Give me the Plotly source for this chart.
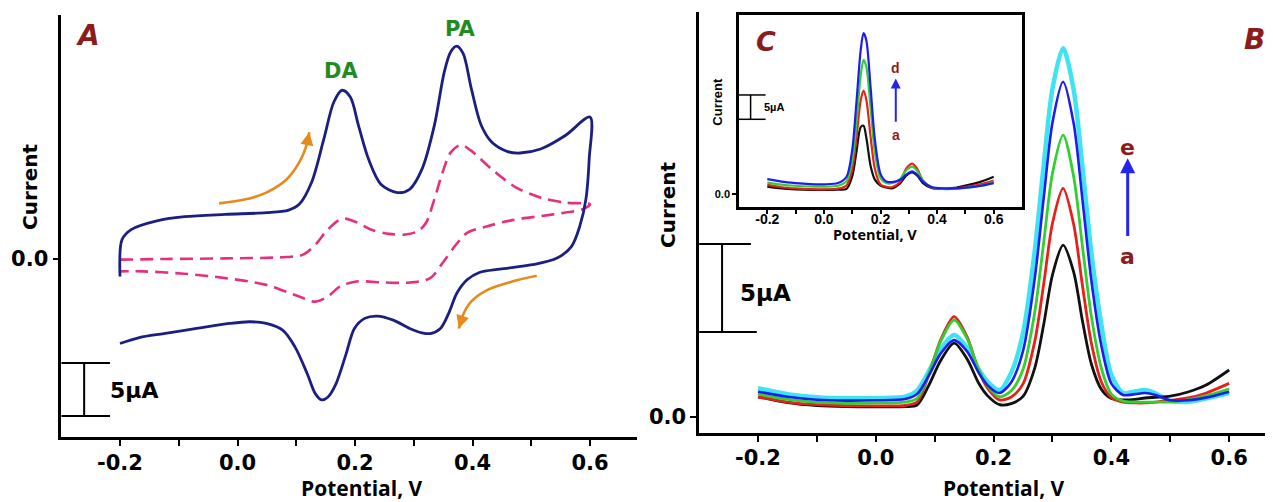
import plotly.graph_objects as go

# ---------------- Panel A : cyclic voltammograms ----------------
CV_BLUE_V = [-0.2, -0.1965, -0.181, -0.139, -0.090, -0.021, 0.049, 0.087, 0.105, 0.126, 0.147, 0.164,
             0.178, 0.192, 0.206, 0.223, 0.244, 0.272, 0.293, 0.314, 0.335, 0.352, 0.363, 0.373,
             0.384, 0.398, 0.415, 0.433, 0.460, 0.481, 0.516, 0.558, 0.600,
             0.5986, 0.593, 0.5826, 0.5686, 0.544, 0.502, 0.4466, 0.4117, 0.3908, 0.3733, 0.3594,
             0.3454, 0.328, 0.314, 0.293, 0.2652, 0.2373, 0.2164, 0.199, 0.185, 0.1676, 0.1536,
             0.1432, 0.1327, 0.1187, 0.0978, 0.0769, 0.049, 0.0211, -0.0138, -0.0696, -0.1254,
             -0.1672, -0.2]
CV_BLUE_I = [-1.65, 1.84, 2.78, 3.58, 3.99, 4.21, 4.37, 4.62, 5.16, 7.22, 11.33, 14.81,
             15.92, 15.28, 12.59, 9.43, 7.06, 6.27, 6.58, 8.48, 12.59, 17.66, 19.56, 20.09,
             19.40, 16.08, 12.59, 11.01, 10.13, 10.0, 10.38, 11.65, 13.39,
             9.43, 5.63, 3.10, 1.20, 0.09, -0.54, -0.95, -1.27, -1.96, -3.23, -5.13,
             -6.55, -7.03, -6.96, -6.55, -5.76, -5.38, -5.60, -6.55, -8.92, -11.77, -13.04,
             -13.29, -12.72, -10.82, -8.29, -6.71, -6.08, -5.92, -6.08, -6.55, -7.03,
             -7.41, -7.97]

CV_PINK_V = [-0.2, -0.1254, -0.0208, 0.0839, 0.1118, 0.1327, 0.1536, 0.178, 0.2024, 0.2269, 0.2582,
             0.2861, 0.307, 0.321, 0.335, 0.349, 0.3629, 0.3803, 0.3977, 0.4326, 0.4745, 0.5163,
             0.5581, 0.6,
             0.586, 0.5372, 0.4675, 0.4256, 0.3908, 0.3698, 0.349, 0.328, 0.2931, 0.2513, 0.2024,
             0.1745, 0.1536, 0.1327, 0.1048, 0.049, -0.0208, -0.0905, -0.1602, -0.2]
CV_PINK_I = [-0.06, 0.0, 0.06, 0.19, 0.41, 1.36, 2.78, 3.80, 3.48, 2.78, 2.37,
             2.31, 2.63, 3.42, 5.63, 8.16, 10.06, 10.76, 10.22, 8.48, 6.74, 5.79,
             5.32, 5.16,
             4.68, 4.21, 3.67, 3.10, 2.47, 1.20, -0.38, -1.80, -2.22, -2.22, -2.12,
             -2.59, -3.54, -4.02, -3.54, -2.44, -1.80, -1.39, -1.17, -1.17]

ARROW_UP_V = [-0.0312, 0.0140, 0.049, 0.0839, 0.105, 0.119, 0.1222]
ARROW_UP_I = [5.25, 5.63, 6.27, 7.53, 9.11, 11.01, 11.96]
ARROW_DN_V = [0.5093, 0.4675, 0.4256, 0.3977, 0.3838, 0.3768]
ARROW_DN_I = [-1.58, -2.12, -2.91, -4.02, -5.28, -6.55]

# ---------------- Panel B : DPV, PA concentration varied ----------------
XB = [-0.2, -0.15, -0.1, -0.05, 0.0, 0.05, 0.07, 0.09, 0.11, 0.133, 0.155, 0.175, 0.19, 0.21,
      0.23, 0.25, 0.27, 0.285, 0.30, 0.318, 0.336, 0.351, 0.366, 0.383, 0.40, 0.42, 0.44,
      0.457, 0.475, 0.50, 0.53, 0.56, 0.60]
B_BLACK = [1.15, 0.82, 0.65, 0.59, 0.58, 0.59, 0.68, 1.8, 3.2, 4.2, 3.3, 1.9, 1.2, 0.7,
           0.76, 1.17, 2.79, 5.24, 8.08, 9.77, 8.23, 5.44, 3.01, 1.57, 1.05, 0.97, 1.0,
           1.08, 1.12, 1.18, 1.42, 1.8, 2.67]
B_RED = [1.15, 0.85, 0.7, 0.64, 0.63, 0.66, 0.85, 2.4, 4.37, 5.70, 4.55, 2.6, 1.62, 0.97,
         1.14, 1.88, 4.31, 7.53, 11.01, 12.99, 10.94, 7.44, 4.2, 1.99, 1.1, 0.85, 0.8,
         0.8, 0.85, 0.95, 1.08, 1.35, 1.91]
B_GREEN = [1.31, 1.0, 0.84, 0.78, 0.8, 0.85, 1.05, 2.44, 4.28, 5.51, 4.45, 2.66, 1.76, 1.15,
           1.49, 2.71, 5.98, 9.89, 13.85, 16.02, 13.65, 9.66, 5.73, 2.77, 1.3, 0.9, 0.85,
           0.85, 0.85, 0.85, 0.97, 1.2, 1.59]
B_BLUE = [1.44, 1.15, 0.98, 0.93, 0.95, 1.02, 1.3, 2.35, 3.6, 4.37, 3.73, 2.5, 1.8, 1.36,
          1.98, 3.75, 7.91, 12.42, 16.73, 19.05, 16.67, 12.31, 7.77, 4.05, 1.9, 1.25, 1.3,
          1.36, 1.25, 0.95, 0.95, 1.1, 1.44]
B_CYAN = [1.63, 1.3, 1.12, 1.06, 1.08, 1.15, 1.5, 2.6, 3.85, 4.66, 3.94, 2.7, 2.0, 1.53,
          2.52, 4.77, 9.49, 14.29, 18.66, 20.95, 18.58, 14.18, 9.36, 5.25, 2.4, 1.36, 1.45,
          1.53, 1.35, 0.92, 0.87, 1.05, 1.36]

# ---------------- Inset C : DPV, DA concentration varied ----------------
XC = [-0.2, -0.15, -0.1, -0.05, 0.0, 0.05, 0.08, 0.10, 0.115, 0.13, 0.14, 0.15, 0.165, 0.18,
      0.20, 0.22, 0.24, 0.27, 0.29, 0.312, 0.33, 0.35, 0.38, 0.42, 0.46, 0.50, 0.55, 0.60]
C_BLACK = [1.57, 1.2, 1.0, 0.9, 0.89, 0.95, 1.1, 3.65, 8.7, 13.8, 14.1, 11.6, 5.8, 3.0,
           1.8, 1.4, 1.2, 2.3, 3.8, 4.5, 3.8, 2.3, 1.3, 1.1, 1.3, 1.8, 2.5, 3.6]
C_RED = [1.92, 1.45, 1.2, 1.05, 1.03, 1.15, 1.8, 5.1, 11.7, 19.3, 21.3, 19.4, 11.8, 5.25,
         2.0, 1.55, 1.45, 2.6, 5.2, 6.3, 5.2, 2.8, 1.4, 1.1, 1.2, 1.5, 2.0, 2.8]
C_GREEN = [2.4, 2.0, 1.75, 1.6, 1.57, 1.75, 2.7, 6.8, 14.8, 24.4, 27.6, 26.2, 17.7, 8.7,
           3.3, 2.3, 2.26, 3.2, 4.9, 5.68, 4.8, 2.8, 1.5, 1.1, 1.1, 1.3, 1.7, 2.5]
C_BLUE = [3.1, 2.6, 2.3, 2.1, 2.05, 2.3, 3.6, 9.1, 18.9, 29.6, 33.1, 31.6, 21.9, 11.3,
          4.2, 2.65, 2.5, 3.0, 4.0, 4.7, 4.0, 2.6, 1.5, 1.2, 1.2, 1.35, 1.7, 2.3]

MAJOR_TICKS = [-0.2, -0.1, 0.0, 0.1, 0.2, 0.3, 0.4, 0.5, 0.6]
MAJOR_TEXT = ["-0.2", "", "0.0", "", "0.2", "", "0.4", "", "0.6"]

# page body has an 8px margin: size the figure to fill the rest of the window
OFF = 8
W, H = 1273 - OFF, 502 - OFF

def px(x):
    return (x - OFF) / W

def py(y):
    return 1 - (y - OFF) / H

MAIN_FONT = "DejaVu Sans"
TITLE_FONT = "Open Sans"
INSET_FONT = "Liberation Sans"
DARKRED = "#8b1c1c"
GREEN_TXT = "#1e8c1e"
ORANGE = "#e8891c"

fig = go.Figure()

# Panel A traces
fig.add_trace(go.Scatter(x=CV_PINK_V, y=CV_PINK_I, mode="lines", xaxis="x", yaxis="y",
                         line=dict(color="#e6307f", width=2.6, dash="13px,7px", shape="spline", smoothing=0.9)))
fig.add_trace(go.Scatter(x=CV_BLUE_V, y=CV_BLUE_I, mode="lines", xaxis="x", yaxis="y",
                         line=dict(color="#1c1f80", width=2.8, shape="spline", smoothing=0.9)))
fig.add_trace(go.Scatter(x=ARROW_UP_V, y=ARROW_UP_I, mode="lines", xaxis="x", yaxis="y",
                         line=dict(color=ORANGE, width=2.6, shape="spline")))
fig.add_trace(go.Scatter(x=ARROW_DN_V, y=ARROW_DN_I, mode="lines", xaxis="x", yaxis="y",
                         line=dict(color=ORANGE, width=2.6, shape="spline")))

# Panel B traces
for yv, col, w in [(B_CYAN, "#3fe3f2", 4.5), (B_BLACK, "#111111", 2.8), (B_RED, "#e8201c", 2.8),
                   (B_GREEN, "#2fd02f", 2.8), (B_BLUE, "#1c1cf0", 2.6)]:
    fig.add_trace(go.Scatter(x=XB, y=yv, mode="lines", xaxis="x2", yaxis="y2",
                             line=dict(color=col, width=w, shape="spline", smoothing=0.8)))

# Inset C traces
for yv, col in [(C_BLACK, "#111111"), (C_RED, "#e8201c"), (C_GREEN, "#2fd02f"), (C_BLUE, "#1c1cf0")]:
    fig.add_trace(go.Scatter(x=XC, y=yv, mode="lines", xaxis="x3", yaxis="y3",
                             line=dict(color=col, width=2.2, shape="spline", smoothing=0.8)))

def xax(domain, rng, size, family, ticklen, anchor, mirror=False, lw=2.5, standoff=0):
    return dict(domain=domain, range=rng, anchor=anchor, showgrid=False, zeroline=False,
                showline=True, linecolor="black", linewidth=lw, mirror=mirror,
                ticks="outside", ticklen=ticklen, tickwidth=2, tickcolor="black",
                tickvals=MAJOR_TICKS, ticktext=MAJOR_TEXT, ticklabelstandoff=standoff,
                tickfont=dict(family=family, size=size, color="black", weight="bold"))

def yax(domain, rng, size, family, ticklen, anchor, mirror=False, lw=2.5, standoff=0):
    return dict(domain=domain, range=rng, anchor=anchor, showgrid=False, zeroline=False,
                showline=True, linecolor="black", linewidth=lw, mirror=mirror,
                ticks="outside", ticklen=ticklen, tickwidth=2, tickcolor="black",
                tickvals=[0.0], ticktext=["0.0"], ticklabelstandoff=standoff,
                tickfont=dict(family=family, size=size, color="black", weight="bold"))

fig.update_layout(
    width=W, height=H, margin=dict(l=0, r=0, t=0, b=0),
    paper_bgcolor="white", plot_bgcolor="white", showlegend=False,
    xaxis=xax([px(61.25), px(637)], [-0.3, 0.68], 21, MAIN_FONT, 6, "y", standoff=-1),
    yaxis=yax([py(437), py(15)], [-16.79, 23.02], 21, MAIN_FONT, 6, "x"),
    xaxis2=xax([px(699.1), px(1270.4)], [-0.3, 0.67], 21, MAIN_FONT, 6, "y2", standoff=-2),
    yaxis2=yax([py(433), py(12)], [-0.909, 23.01], 21, MAIN_FONT, 6, "x2"),
    xaxis3=xax([px(739), px(1022)], [-0.3, 0.7], 14, INSET_FONT, 4, "y3", mirror=True, lw=2.5,
               standoff=-7),
    yaxis3=yax([py(207), py(15)], [-2.61, 36.82], 11, INSET_FONT, 4, "x3", mirror=True, lw=2.5),
)

shapes = []
def seg(xr, yr, x0, y0, x1, y1, w=2):
    shapes.append(dict(type="line", xref=xr, yref=yr, x0=x0, y0=y0, x1=x1, y1=y1,
                       line=dict(color="black", width=w)))

# scale bars (5 uA)
seg("x", "y", -0.261, -9.81, -0.261, -14.81)
seg("x", "y", -0.3, -9.81, -0.217, -9.81)
seg("x", "y", -0.3, -14.81, -0.217, -14.81)
seg("x2", "y2", -0.261, 9.83, -0.261, 4.83)
seg("x2", "y2", -0.3, 9.83, -0.212, 9.83)
seg("x2", "y2", -0.3, 4.83, -0.202, 4.83)
seg("x3", "y3", -0.259, 20.4, -0.259, 15.4, 1.5)
seg("x3", "y3", -0.3, 20.4, -0.206, 20.4, 1.5)
seg("x3", "y3", -0.3, 15.4, -0.206, 15.4, 1.5)
fig.update_layout(shapes=shapes)

ann = []
def txt(xr, yr, x, y, s, size, color="black", family=MAIN_FONT, xanchor="center", angle=0,
        yanchor="middle"):
    ann.append(dict(xref=xr, yref=yr, x=x, y=y, text=s, showarrow=False, xanchor=xanchor,
                    yanchor=yanchor, textangle=angle,
                    font=dict(family=family, size=size, color=color, weight="bold")))

# Panel A texts
txt("x", "y", -0.254, 21.1, "<i>A</i>", 28, DARKRED)
txt("x", "y", 0.176, 17.76, "DA", 21, GREEN_TXT)
txt("x", "y", 0.379, 21.67, "PA", 21, GREEN_TXT)
txt("x", "y", -0.221, -12.36, "5µA", 22, xanchor="left")
txt("paper", "paper", px(30), py(187), "Current", 20, angle=-90)
txt("paper", "paper", px(361.5), -2 / H, "Potential, V", 21, family=TITLE_FONT, yanchor="bottom")

# Panel B texts
txt("x2", "y2", 0.6438, 21.42, "<i>B</i>", 28, DARKRED)
txt("x2", "y2", 0.4277, 15.3, "e", 22, DARKRED)
txt("x2", "y2", 0.4277, 9.1, "a", 22, DARKRED)
txt("x2", "y2", -0.234, 7.05, "5µA", 23, xanchor="left")
txt("paper", "paper", px(668), py(205), "Current", 20, angle=-90)
txt("paper", "paper", px(1004), -2 / H, "Potential, V", 21, family=TITLE_FONT, yanchor="bottom")

# Inset C texts
txt("x3", "y3", -0.206, 31.3, "<i>C</i>", 27, DARKRED)
txt("x3", "y3", 0.254, 25.9, "d", 14, DARKRED, family=INSET_FONT)
txt("x3", "y3", 0.254, 12.2, "a", 14, DARKRED, family=INSET_FONT)
txt("x3", "y3", -0.219, 17.9, "5µA", 11, family=INSET_FONT, xanchor="left")
txt("paper", "paper", px(716.7), py(102), "Current", 13, family=INSET_FONT, angle=-90)
txt("paper", "paper", px(875), py(234), "Potential, V", 14.5, family=TITLE_FONT)

# arrows
def arrow(xr, yr, x0, y0, x1, y1, color, width, size=1.0, head=2):
    ann.append(dict(xref=xr, yref=yr, axref=xr, ayref=yr, x=x1, y=y1, ax=x0, ay=y0, text="",
                    showarrow=True, arrowhead=head, arrowsize=size, arrowwidth=width,
                    arrowcolor=color))

arrow("x", "y", ARROW_UP_V[-2], ARROW_UP_I[-2], ARROW_UP_V[-1], ARROW_UP_I[-1], ORANGE, 2.6)
arrow("x", "y", ARROW_DN_V[-2], ARROW_DN_I[-2], ARROW_DN_V[-1], ARROW_DN_I[-1], ORANGE, 2.6)
arrow("x2", "y2", 0.4277, 10.2, 0.4277, 14.7, "#2424f0", 3, 1.0, 2)
arrow("x3", "y3", 0.254, 14.6, 0.254, 23.8, "#2424f0", 2, 1.0, 2)

fig.update_layout(annotations=ann)
fig.write_html("out.html")
